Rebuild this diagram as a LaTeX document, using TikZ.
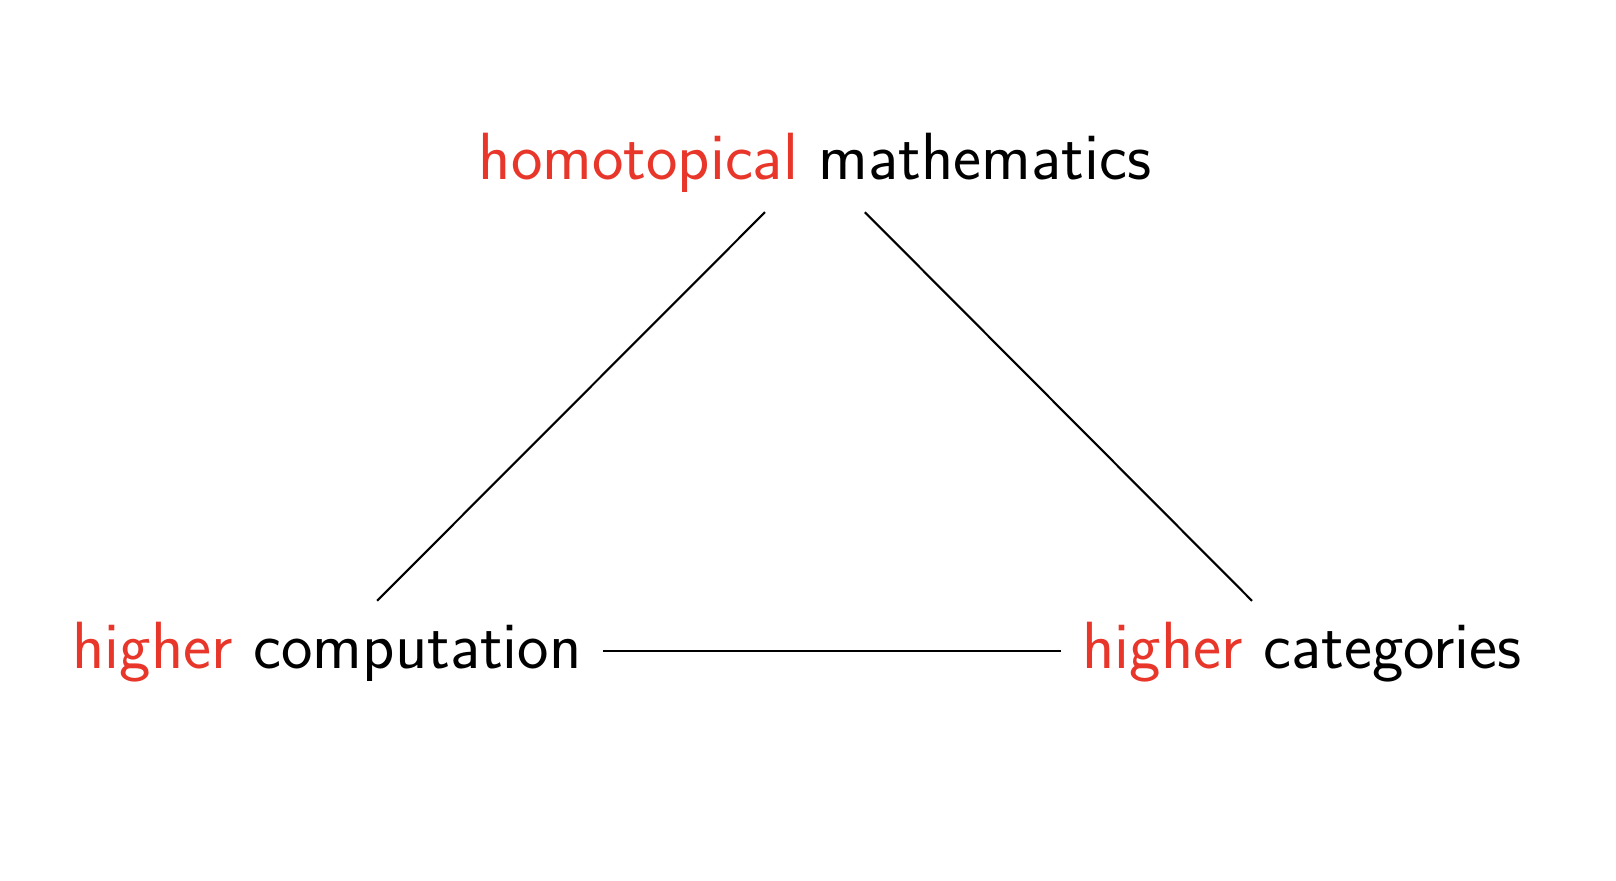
\documentclass[tikz,border=0pt]{standalone}
\usepackage{xcolor}
\definecolor{hred}{RGB}{232,54,42}
\begin{document}
\begin{tikzpicture}[x=1cm,y=1cm,
  lbl/.style={font=\fontsize{19}{23}\selectfont\sffamily, text height=0.5cm, text depth=0.14cm, inner xsep=0.21cm, inner ysep=0.175cm},
  link/.style={draw=black, line width=0.6pt}]
\useasboundingbox (0,0) rectangle (16.16,8.80);
\node[lbl] (top) at (8.15,7.18) {\textcolor{hred}{homotopical} mathematics};
\node[lbl] (bl) at (3.27,2.29) {\textcolor{hred}{higher} computation};
\node[lbl] (br) at (13.02,2.29) {\textcolor{hred}{higher} categories};
\draw[link] (top) -- (bl);
\draw[link] (top) -- (br);
\draw[link] (bl) -- (br);
\end{tikzpicture}
\end{document}
